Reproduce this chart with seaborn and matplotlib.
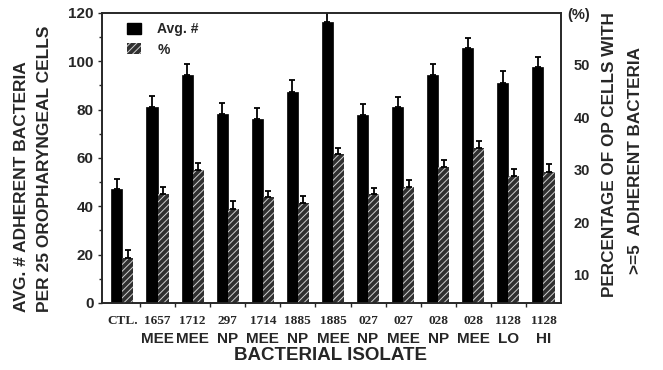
import numpy as np
import pandas as pd
import matplotlib
matplotlib.use("Agg")
import matplotlib.pyplot as plt
from matplotlib.patches import Patch
from matplotlib.ticker import MultipleLocator, FixedLocator
import seaborn as sns

# isolate number (serif row) and source (second row)
isolates = ["CTL.", "1657", "1712", "297", "1714", "1885", "1885",
            "027", "027", "028", "028", "1128", "1128"]
sources = ["", "MEE", "MEE", "NP", "MEE", "NP", "MEE",
           "NP", "MEE", "NP", "MEE", "LO", "HI"]

# avg. # adherent bacteria per 25 OP cells (left axis)
avg_adherent = [47, 81, 94.3, 78.2, 76.3, 87.2, 116.4, 77.8, 81, 94.3, 105.4, 91.2, 97.8]
avg_err = [4.2, 4.8, 4.6, 4.7, 4.5, 5.1, 4.1, 4.5, 4.4, 4.6, 4.1, 4.8, 4.1]

# percentage of OP cells with >=5 adherent bacteria (right axis)
pct_cells = [13.1, 25.4, 29.9, 22.6, 24.7, 23.7, 33.0, 25.3, 26.7, 30.5, 34.2, 28.7, 29.6]
pct_err = [1.6, 1.3, 1.4, 1.4, 1.3, 1.3, 1.2, 1.3, 1.3, 1.3, 1.2, 1.4, 1.4]

series_order = ["Avg. #", "%"]
colors = {"Avg. #": "black", "%": "#303030"}

keys = [f"{a}\n{b}" for a, b in zip(isolates, sources)]
df_avg = pd.DataFrame({"isolate": keys, "series": "Avg. #", "value": avg_adherent})
df_pct = pd.DataFrame({"isolate": keys, "series": "%", "value": pct_cells})

sns.set_style("ticks")
plt.rcParams["font.family"] = ["Liberation Sans", "DejaVu Sans"]
plt.rcParams["font.weight"] = "bold"
plt.rcParams["hatch.linewidth"] = 0.7
plt.rcParams["axes.linewidth"] = 1.2

fig = plt.figure(figsize=(6.63, 3.70), dpi=100)
ax = fig.add_subplot(111)
fig.subplots_adjust(left=0.1538, right=0.8462, bottom=0.1811, top=0.9649)
ax2 = ax.twinx()

# each series on its own y scale, dodged side by side
sns.barplot(data=df_avg, x="isolate", y="value", hue="series", hue_order=series_order,
            order=keys, palette=colors, width=0.63, dodge=True, errorbar=None,
            edgecolor="black", linewidth=0.5, legend=False, ax=ax)
sns.barplot(data=df_pct, x="isolate", y="value", hue="series", hue_order=series_order,
            order=keys, palette=colors, width=0.63, dodge=True, errorbar=None,
            linewidth=0, legend=False, ax=ax2)

for p in ax2.patches:
    p.set_hatch("/////")
    p.set_edgecolor("#d0d0d0")
    p.set_linewidth(0)


def add_caps(axis, err):
    bars = sorted(axis.patches, key=lambda p: p.get_x())
    xs = [p.get_x() + p.get_width() / 2 for p in bars]
    tops = [p.get_height() for p in bars]
    axis.errorbar(xs, tops, yerr=[np.zeros(len(err)), err], fmt="none",
                  ecolor="black", elinewidth=1.3, capsize=2.5, capthick=1.3, zorder=5)


add_caps(ax, avg_err)
add_caps(ax2, pct_err)

# axes / ticks
ax.set_xlim(-0.583, 12.5)
ax.set_ylim(0, 120)
ax.yaxis.set_major_locator(MultipleLocator(20))
ax.yaxis.set_minor_locator(MultipleLocator(10))
ax.tick_params(axis="y", which="major", direction="out", length=3, width=1, labelsize=11, pad=3)
ax.tick_params(axis="y", which="minor", direction="out", length=2, width=1)

ax.set_xticks(range(len(isolates)))
ax.set_xticklabels(isolates, fontfamily="Liberation Serif", fontsize=9.5)
ax.xaxis.set_minor_locator(FixedLocator(np.arange(0.5, len(isolates) - 1, 1)))
ax.tick_params(axis="x", which="major", length=0, pad=9)
ax.tick_params(axis="x", which="minor", direction="out", length=3, width=1)

ax2.set_ylim(4.6, 59.85)
ax2.set_yticks([10, 20, 30, 40, 50])
ax2.tick_params(axis="y", length=0, pad=9, labelsize=10.5)

ax.set_xlabel("")
ax.set_ylabel("")
ax2.set_xlabel("")
ax2.set_ylabel("")

for i, s in enumerate(sources):
    ax.text(i, -0.124, s, transform=ax.get_xaxis_transform(), ha="center", va="center",
            fontsize=11)

fig.text(331 / 663, 1 - 355 / 370, "BACTERIAL ISOLATE", ha="center", va="center", fontsize=13.5)
fig.text(22 / 663, 1 - 312 / 370, "AVG. # ADHERENT BACTERIA", rotation=90,
         ha="center", va="bottom", fontsize=12.5)
fig.text(45 / 663, 1 - 312 / 370, "PER 25 OROPHARYNGEAL CELLS", rotation=90,
         ha="center", va="bottom", fontsize=12.5)
fig.text(609 / 663, 1 - 155 / 370, "PERCENTAGE OF OP CELLS WITH", rotation=90,
         ha="center", va="center", fontsize=12.3)
fig.text(636 / 663, 1 - 160 / 370, ">=5  ADHERENT BACTERIA", rotation=90,
         ha="center", va="center", fontsize=12.3)
fig.text(579 / 663, 1 - 15 / 370, "(%)", ha="center", va="center", fontsize=10.5)

handles = [Patch(facecolor="black", edgecolor="black"),
           Patch(facecolor="#303030", edgecolor="#d0d0d0", hatch="/////", linewidth=0)]
ax2.legend(handles, series_order, loc="upper left", bbox_to_anchor=(0.054, 0.968),
           frameon=False, fontsize=10, handlelength=1.0, handleheight=0.9,
           handletextpad=1.2, labelspacing=0.45, borderpad=0, borderaxespad=0)

fig.savefig("out.png", dpi=100)
